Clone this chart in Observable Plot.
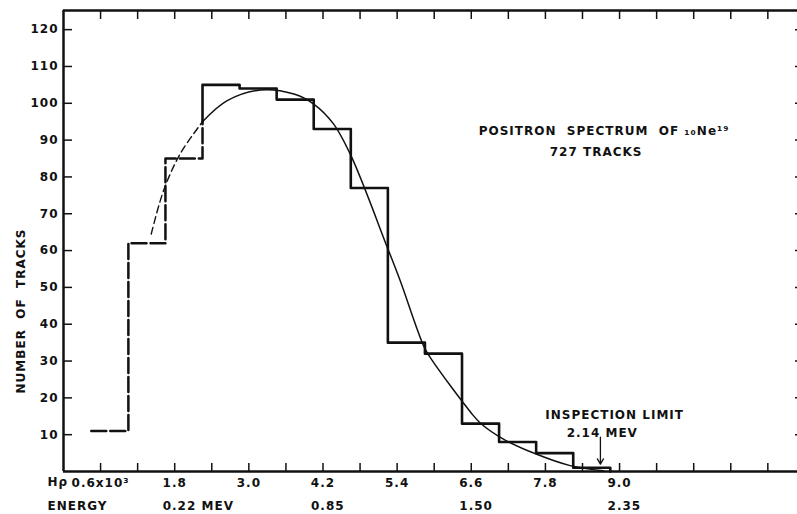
<!DOCTYPE html>
<html><head><meta charset="utf-8">
<script src="https://cdn.jsdelivr.net/npm/d3@7"></script>
<script src="https://cdn.jsdelivr.net/npm/@observablehq/plot@0.6"></script>
<style>
html,body{margin:0;padding:0;background:#fff;}
#chart svg{display:block;}
#chart svg text{letter-spacing:1px;}
</style></head><body><div id="chart"></div>
<script>
// ---- data ----
const binStart = 0.45;          // Hρ (10^3 gauss-cm) of first bin's left edge
const binWidth = 0.6;
const counts = [11, 62, 85, 105, 104, 101, 93, 77, 35, 32, 13, 8, 5, 1];
const dashedBinCount = 3;       // first bins drawn dashed
const fitX = [1.42, 1.62, 1.89, 2.25, 2.65, 3.19, 3.73, 4.05, 4.37, 4.66, 5.24, 5.45, 5.84, 5.97, 6.59, 6.75, 7.12, 7.67, 8.2, 8.74];
const fitY = [64.5, 76.3, 86.3, 95.0, 100.7, 103.6, 102.5, 99.8, 94.4, 85.5, 60.9, 51.8, 33.7, 30.1, 16.1, 13.1, 8.8, 4.6, 1.6, 0.2];
const fitDashedUntil = 2.25;
const yTicks = [10, 20, 30, 40, 50, 60, 70, 80, 90, 100, 110, 120];
const xTicks = [0.6, 1.2, 1.8, 2.4, 3.0, 3.6, 4.2, 4.8, 5.4, 6.0, 6.6, 7.2, 7.8, 8.4, 9.0, 9.6, 10.2, 10.8, 11.4];
const hrhoTicks = [0.6, 1.8, 3.0, 4.2, 5.4, 6.6, 7.8, 9.0];
const hrhoLabels = ["0.6x10³", "1.8", "3.0", "4.2", "5.4", "6.6", "7.8", "9.0"];
const energyTicks = [1.8, 4.2, 6.6, 9.0];
const energyLabels = ["0.22 MEV", "0.85", "1.50", "2.35"];
const inspectionLimit = 8.69;
const xDomain = [0, 11.88];
const yDomain = [0, 125.2];

// ---- derived tables ----
const edges = counts.map((_, i) => +(binStart + i * binWidth).toFixed(2));
const lastEdge = +(binStart + counts.length * binWidth).toFixed(2);
const fit = fitX.map((x, i) => ({x, y: fitY[i]}));
const splitY = fitY[fitX.indexOf(fitDashedUntil)];
const dashedSteps = counts.slice(0, dashedBinCount).map((c, i) => ({x: edges[i], y: c}));
dashedSteps.push({x: edges[dashedBinCount], y: splitY});
const solidSteps = [{x: edges[dashedBinCount], y: splitY}]
  .concat(counts.slice(dashedBinCount).map((c, i) => ({x: edges[i + dashedBinCount], y: c})));
solidSteps.push({x: lastEdge, y: 0});
const fitDashed = fit.filter(d => d.x <= fitDashedUntil);
const fitSolid = fit.filter(d => d.x >= fitDashedUntil);

const ink = "#111";
const font = "DejaVu Sans";

const chart = Plot.plot({
  width: 797,
  height: 514,
  marginLeft: 63,
  marginRight: 0,
  marginTop: 10,
  marginBottom: 43,
  style: {fontFamily: font, fontSize: "12px", fontWeight: "bold", color: ink, background: "#fff", overflow: "visible"},
  x: {domain: xDomain},
  y: {domain: yDomain},
  marks: [
    // frame
    Plot.ruleX([xDomain[0]], {stroke: ink, strokeWidth: 2.5}),
    Plot.ruleY([yDomain[0]], {stroke: ink, strokeWidth: 2.5}),
    Plot.ruleY([yDomain[1]], {stroke: ink, strokeWidth: 2.5}),
    // inward ticks
    Plot.axisX({anchor: "bottom", ticks: xTicks, tickSize: -8, tickFormat: () => "", label: null, strokeWidth: 1.5}),
    Plot.axisX({anchor: "top", ticks: xTicks, tickSize: -8, tickFormat: () => "", label: null, strokeWidth: 1.5}),
    Plot.axisY({anchor: "left", ticks: yTicks, tickSize: -9, tickFormat: () => "", label: null, strokeWidth: 1.5}),
    Plot.axisY({anchor: "right", ticks: yTicks, tickSize: -3, tickFormat: () => "", label: null, strokeWidth: 1.5}),
    // y tick labels
    Plot.axisY({anchor: "left", ticks: yTicks, tickSize: 0, tickPadding: 5, label: null, fontSize: 12}),
    // y title
    Plot.text(["NUMBER  OF  TRACKS"], {frameAnchor: "left", textAnchor: "middle", dx: -42, dy: 70, rotate: -90, fontSize: 12, fontWeight: "bold", fill: ink}),
    // x labels, two rows
    Plot.text(hrhoTicks, {x: d => d, y: yDomain[0], text: (d, i) => hrhoLabels[i], dy: 12, lineAnchor: "middle", fontSize: 12, fill: ink}),
    Plot.text(energyTicks, {x: d => d, y: yDomain[0], text: (d, i) => energyLabels[i], dy: 35, dx: -12, textAnchor: "start", lineAnchor: "middle", fontSize: 12, fill: ink}),
    Plot.text(["Hρ"], {frameAnchor: "bottom-left", dx: -16, dy: 11, lineAnchor: "middle", textAnchor: "start", fontSize: 12, fill: ink}),
    Plot.text(["ENERGY"], {frameAnchor: "bottom-left", dx: -16, dy: 35, lineAnchor: "middle", textAnchor: "start", fontSize: 12, fill: ink}),
    // histogram
    Plot.line(dashedSteps, {x: "x", y: "y", curve: "step-after", stroke: ink, strokeWidth: 2.5, strokeDasharray: "15,4"}),
    Plot.line(solidSteps, {x: "x", y: "y", curve: "step-after", stroke: ink, strokeWidth: 2.6}),
    // fitted curve
    Plot.line(fitDashed, {x: "x", y: "y", curve: "catmull-rom", stroke: ink, strokeWidth: 1.4, strokeDasharray: "7,4"}),
    Plot.line(fitSolid, {x: "x", y: "y", curve: "catmull-rom", stroke: ink, strokeWidth: 1.5}),
    // annotations
    Plot.text(["POSITRON  SPECTRUM  OF ₁₀Ne¹⁹"], {x: 8.75, y: 92.3, lineAnchor: "middle", fontSize: 12, fill: ink}),
    Plot.text(["727 TRACKS"], {x: 8.62, y: 86.6, lineAnchor: "middle", fontSize: 12, fill: ink}),
    Plot.text(["INSPECTION LIMIT"], {x: 8.92, y: 15.2, lineAnchor: "middle", fontSize: 12, fill: ink}),
    Plot.text(["2.14 MEV"], {x: 8.72, y: 10.5, lineAnchor: "middle", fontSize: 12, fill: ink}),
    Plot.arrow([inspectionLimit], {x1: d => d, x2: d => d, y1: 9.3, y2: 2.0, stroke: ink, strokeWidth: 1.3, headLength: 7})
  ]
});
document.getElementById("chart").appendChild(chart);
</script>
</body></html>
